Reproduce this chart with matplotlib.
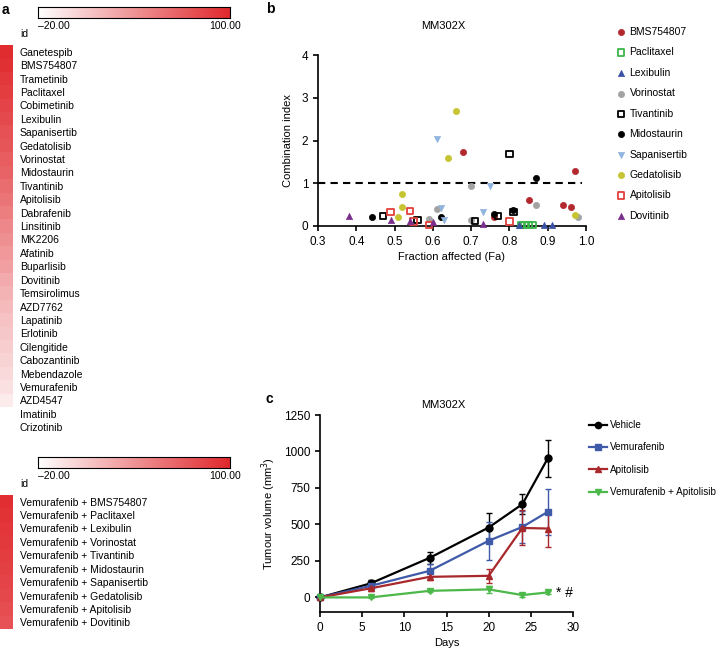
import matplotlib
matplotlib.use('Agg')
import matplotlib.pyplot as plt
import numpy as np
from matplotlib.colors import LinearSegmentedColormap
from matplotlib.ticker import FormatStrFormatter

plt.rcParams['font.family'] = ['Liberation Sans', 'DejaVu Sans']

W, H = 718, 649

# ---------------- Panel a data ----------------
single_drugs = ['Ganetespib', 'BMS754807', 'Trametinib', 'Paclitaxel', 'Cobimetinib',
                'Lexibulin', 'Sapanisertib', 'Gedatolisib', 'Vorinostat', 'Midostaurin',
                'Tivantinib', 'Apitolisib', 'Dabrafenib', 'Linsitinib', 'MK2206',
                'Afatinib', 'Buparlisib', 'Dovitinib', 'Temsirolimus', 'AZD7762',
                'Lapatinib', 'Erlotinib', 'Cilengitide', 'Cabozantinib', 'Mebendazole',
                'Vemurafenib', 'AZD4547', 'Imatinib', 'Crizotinib']
single_values = [98, 95, 91, 88, 84, 81, 77, 74, 70, 67, 62, 57, 52, 47, 42,
                 37, 33, 27, 23, 18, 14, 11, 8, 4, 1, -3, -9, -20, -20]

combo_drugs = ['Vemurafenib + BMS754807', 'Vemurafenib + Paclitaxel', 'Vemurafenib + Lexibulin',
               'Vemurafenib + Vorinostat', 'Vemurafenib + Tivantinib', 'Vemurafenib + Midostaurin',
               'Vemurafenib + Sapanisertib', 'Vemurafenib + Gedatolisib', 'Vemurafenib + Apitolisib',
               'Vemurafenib + Dovitinib']
combo_values = [96, 94, 92, 90, 88, 86, 84, 82, 79, 76]

cbar_min, cbar_max = -20, 100
cbar_labels = ['\u201320.00', '100.00']

# ---------------- Panel b data ----------------
b_names = ['BMS754807', 'Paclitaxel', 'Lexibulin', 'Vorinostat', 'Tivantinib',
           'Midostaurin', 'Sapanisertib', 'Gedatolisib', 'Apitolisib', 'Dovitinib']
bms_fa = [0.68, 0.76, 0.85, 0.94, 0.96, 0.97]
bms_ci = [1.74, 0.22, 0.61, 0.48, 0.45, 1.29]
pac_fa = [0.83, 0.84, 0.85, 0.86]
pac_ci = [0.02, 0.02, 0.02, 0.02]
lex_fa = [0.825, 0.89, 0.91]
lex_ci = [0.02, 0.02, 0.02]
vor_fa = [0.59, 0.61, 0.70, 0.70, 0.87, 0.98]
vor_ci = [0.16, 0.40, 0.94, 0.15, 0.50, 0.20]
tiv_fa = [0.47, 0.56, 0.71, 0.77, 0.80, 0.81]
tiv_ci = [0.23, 0.14, 0.12, 0.23, 1.68, 0.33]
mid_fa = [0.44, 0.62, 0.76, 0.81, 0.87]
mid_ci = [0.22, 0.20, 0.28, 0.38, 1.13]
sap_fa = [0.61, 0.62, 0.63, 0.73, 0.75]
sap_ci = [2.03, 0.42, 0.13, 0.33, 0.93]
ged_fa = [0.51, 0.52, 0.52, 0.64, 0.66, 0.97]
ged_ci = [0.20, 0.45, 0.75, 1.60, 2.69, 0.26]
api_fa = [0.49, 0.54, 0.55, 0.59, 0.80]
api_ci = [0.33, 0.35, 0.10, 0.02, 0.10]
dov_fa = [0.38, 0.49, 0.54, 0.60, 0.73]
dov_ci = [0.23, 0.15, 0.12, 0.10, 0.05]

# ---------------- Panel c data ----------------
days = [0, 6, 13, 20, 24, 27]
c_names = ['Vehicle', 'Vemurafenib', 'Apitolisib', 'Vemurafenib + Apitolisib']
vehicle = [0, 96, 271, 479, 639, 952]
vehicle_err = [0, 20, 40, 100, 70, 130]
vemu = [0, 79, 182, 388, 483, 586]
vemu_err = [0, 15, 45, 130, 110, 160]
apit = [0, 62, 141, 148, 476, 472]
apit_err = [0, 15, 25, 50, 120, 125]
combo = [0, 0, 45, 55, 16, 34]
combo_err = [0, 5, 10, 25, 10, 10]

# ---------------- Figure ----------------
fig = plt.figure(figsize=(W / 100, H / 100), dpi=100)


def px_axes(l, t, r, b):
    return fig.add_axes([l / W, 1 - b / H, (r - l) / W, (b - t) / H])


cmap = LinearSegmentedColormap.from_list('wr', ['#ffffff', '#e0282c'])


def colorbar_block(top):
    cax = px_axes(38, top, 230, top + 11)
    grad = np.linspace(cbar_min, cbar_max, 256)[None, :]
    cax.imshow(grad, cmap=cmap, vmin=cbar_min, vmax=cbar_max, aspect='auto')
    cax.set_xticks([])
    cax.set_yticks([])
    for s in cax.spines.values():
        s.set_linewidth(0.8)
    fig.text(38 / W, 1 - (top + 19) / H, cbar_labels[0], fontsize=7.5, ha='left', va='center')
    fig.text(241 / W, 1 - (top + 19) / H, cbar_labels[1], fontsize=7.5, ha='right', va='center')
    fig.text(20 / W, 1 - (top + 27) / H, 'id', fontsize=7.5, ha='left', va='center')


def heat_block(top, bottom, names, values):
    ax = px_axes(0, top, 13, bottom)
    ax.imshow(np.array(values, dtype=float)[:, None], cmap=cmap, vmin=cbar_min,
              vmax=cbar_max, aspect='auto')
    ax.set_xticks([])
    ax.set_yticks(range(len(names)))
    ax.set_yticklabels(names)
    ax.yaxis.tick_right()
    ax.tick_params(axis='y', length=0, pad=5, labelsize=7.5)
    for s in ax.spines.values():
        s.set_visible(False)


colorbar_block(7)
heat_block(45, 434, single_drugs, single_values)
colorbar_block(457)
heat_block(495, 629, combo_drugs, combo_values)

fig.text(2 / W, 1 - 10 / H, 'a', fontsize=10, fontweight='bold', ha='left', va='center')
fig.text(266 / W, 1 - 9 / H, 'b', fontsize=10, fontweight='bold', ha='left', va='center')
fig.text(266 / W, 1 - 399 / H, 'c', fontsize=10, fontweight='bold', ha='left', va='center')

# ---------------- Panel b ----------------
axb = px_axes(318, 55, 586, 226)
b_series = [
    (bms_fa, bms_ci, 'o', '#b2282d', '#b2282d'),
    (pac_fa, pac_ci, 's', 'none', '#3cb54a'),
    (lex_fa, lex_ci, '^', '#3a52a4', '#3a52a4'),
    (vor_fa, vor_ci, 'o', '#a3a3a3', '#a3a3a3'),
    (tiv_fa, tiv_ci, 's', 'none', '#000000'),
    (mid_fa, mid_ci, 'o', '#000000', '#000000'),
    (sap_fa, sap_ci, 'v', '#90b4de', '#90b4de'),
    (ged_fa, ged_ci, 'o', '#c6c430', '#c6c430'),
    (api_fa, api_ci, 's', 'none', '#e3403a'),
    (dov_fa, dov_ci, '^', '#7a2e8c', '#7a2e8c'),
]
for name, (xs, ys, m, fc, ec) in zip(b_names, b_series):
    axb.scatter(xs, ys, marker=m, s=20 if m != 's' else 22, facecolors=fc,
                edgecolors=ec, linewidths=1.3 if fc == 'none' else 0.5,
                label=name, zorder=3, clip_on=False)
axb.axhline(1, xmin=0, xmax=(0.99 - 0.3) / 0.7, color='black', lw=1.5,
            ls=(0, (3.5, 2.5)), zorder=2)
axb.set_xlim(0.3, 1.0)
axb.set_ylim(0, 4)
axb.set_xticks(np.arange(0.3, 1.01, 0.1))
axb.xaxis.set_major_formatter(FormatStrFormatter('%.1f'))
axb.set_yticks([0, 1, 2, 3, 4])
for s in ['top', 'right']:
    axb.spines[s].set_visible(False)
for s in ['left', 'bottom']:
    axb.spines[s].set_linewidth(1.2)
axb.tick_params(direction='out', length=3.5, width=1.2, labelsize=8.5)
axb.set_xlabel('Fraction affected (Fa)', fontsize=8, labelpad=3)
axb.set_ylabel('Combination index', fontsize=8, labelpad=6)
fig.text(443 / W, 1 - 26 / H, 'MM302X', fontsize=8, ha='center', va='center')

legb = fig.legend(*axb.get_legend_handles_labels(), loc='upper left',
                  bbox_to_anchor=(617 / W, 1 - 27 / H), frameon=False,
                  fontsize=7.5, handlelength=0.8, handletextpad=0.4,
                  labelspacing=1.0, borderpad=0, borderaxespad=0, scatterpoints=1)

# ---------------- Panel c ----------------
axc = px_axes(320, 415, 573, 612)
c_series = [
    (vehicle, vehicle_err, 'o', '#000000', 5),
    (vemu, vemu_err, 's', '#3f5aa8', 5),
    (apit, apit_err, '^', '#a8282c', 5),
    (combo, combo_err, 'v', '#4cb84a', 5),
]
for name, (vals, errs, m, col, ms) in zip(c_names, c_series):
    axc.errorbar(days, vals, yerr=errs, color=col, marker=m, ms=ms, lw=1.6,
                 elinewidth=1.0, capsize=2.5, capthick=1.0, label=name,
                 clip_on=False, zorder=3)
axc.text(28.0, 31, '* #', fontsize=10, ha='left', va='center')
axc.set_xlim(0, 30)
axc.set_ylim(-100, 1250)
axc.set_xticks([0, 5, 10, 15, 20, 25, 30])
axc.set_yticks([0, 250, 500, 750, 1000, 1250])
for s in ['top', 'right']:
    axc.spines[s].set_visible(False)
for s in ['left', 'bottom']:
    axc.spines[s].set_linewidth(1.2)
axc.tick_params(direction='out', length=3.5, width=1.2, labelsize=8.5)
axc.set_xlabel('Days', fontsize=8, labelpad=3)
axc.set_ylabel('Tumour volume (mm$^3$)', fontsize=8, labelpad=4)
fig.text(443 / W, 1 - 405 / H, 'MM302X', fontsize=8, ha='center', va='center')

handles, labels = axc.get_legend_handles_labels()
handles = [h[0] for h in handles]
fig.legend(handles, labels, loc='upper left', bbox_to_anchor=(589 / W, 1 - 420 / H),
           frameon=False, fontsize=7.1, handlelength=1.8, handletextpad=0.35,
           labelspacing=1.25, borderpad=0, borderaxespad=0, markerscale=0.9)

fig.savefig('out.png', dpi=100)
